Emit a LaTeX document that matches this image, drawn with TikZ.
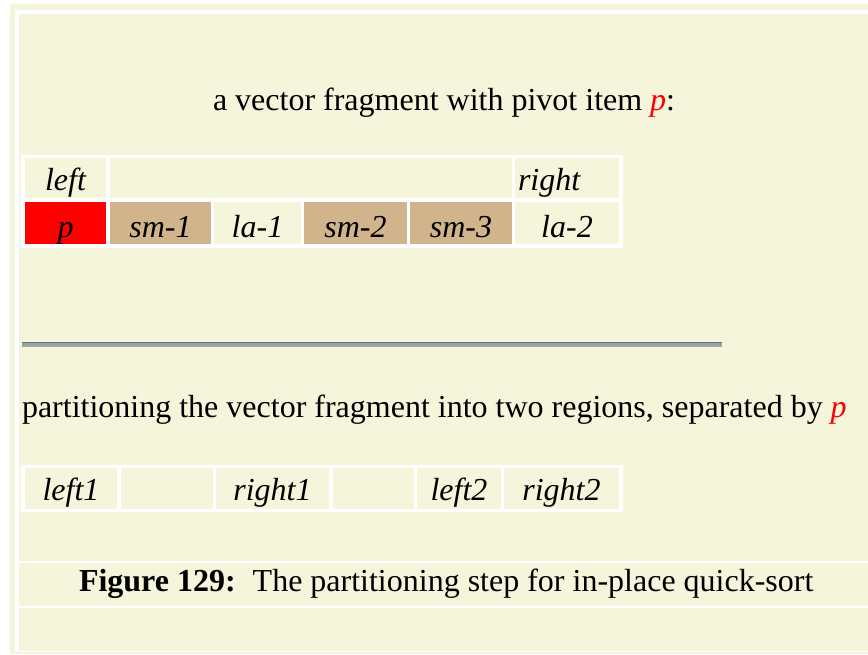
\documentclass[tikz,border=0pt]{standalone}
\usepackage{fontspec}
\setmainfont{Liberation Serif}
\definecolor{paper}{RGB}{245,245,220}
\definecolor{sand}{RGB}{210,180,140}
\definecolor{rulegray}{RGB}{158,160,162}
\definecolor{ruletop}{RGB}{88,128,116}
\definecolor{rulebot}{RGB}{150,176,164}

\begin{document}
\begin{tikzpicture}[x=1pt,y=-1pt,
    every node/.style={inner sep=0pt, outer sep=0pt, font=\fontsize{32}{38}\selectfont},
    cellbox/.style={anchor=north west, inner sep=0pt, fill=paper, font=\fontsize{32}{38}\selectfont\itshape},
    toprow/.style={cellbox, text height=32pt, text depth=8pt},
    botrow/.style={cellbox, text height=35pt, text depth=7pt},
    lowrow/.style={cellbox, text height=32pt, text depth=9pt}]
        \useasboundingbox (0,0) rectangle (868,654);
        % page frame
        \fill[white] (0,0) rectangle (868,654);
        \fill[paper] (10,4) rectangle (868,654);
        \fill[white] (15,10) rectangle (868,652);
        \fill[paper] (19,14) rectangle (868,561);
        \fill[paper] (19,563) rectangle (868,606);
        \fill[paper] (19,608) rectangle (868,651);

        \node[anchor=base west] (title) at (213,110) {a vector fragment with pivot item \textcolor{red}{\itshape p}:};

        % vector before partitioning
        \fill[white] (21,155) rectangle (623,248);
        \foreach \name/\x/\w/\txt in {v-left/25/81/left, v-gap/110/402/{}}
            \node[toprow, minimum width=\w pt] (\name) at (\x,158) {\txt};
        \node[toprow, inner xsep=3pt, text width=98pt, align=left] (v-right) at (515,158) {right};
        \foreach \name/\x/\w/\col/\txt in {v-p/25/81/red/p, v-sm1/110/101/sand/sm-1, v-la1/214/87/paper/la-1,
                                          v-sm2/304/103/sand/sm-2, v-sm3/410/102/sand/sm-3, v-la2/515/104/paper/la-2}
            \node[botrow, fill=\col, minimum width=\w pt] (\name) at (\x,202) {\txt};

        \fill[rulegray] (22,342) rectangle (722,347);
        \draw[ruletop, line width=1.2pt] (22,342.6) -- (722,342.6);
        \draw[rulebot, line width=1pt] (22,346.5) -- (722,346.5);

        \node[anchor=base west] (split) at (22,417) {partitioning the vector fragment into two regions, separated by \textcolor{red}{\itshape p}};

        % vector after partitioning
        \fill[white] (21,465) rectangle (623,512);
        \foreach \name/\x/\w/\txt in {w-left1/25/92/left1, w-e1/121/92/{}, w-right1/216/113/right1,
                                      w-e2/333/81/{}, w-left2/417/84/left2, w-right2/504/115/right2}
            \node[lowrow, minimum width=\w pt] (\name) at (\x,468) {\txt};

        \node[anchor=base west] (caption) at (79,591) {\textbf{Figure 129:}\hspace{17pt}The partitioning step for in-place quick-sort};
    \end{tikzpicture}
\end{document}
